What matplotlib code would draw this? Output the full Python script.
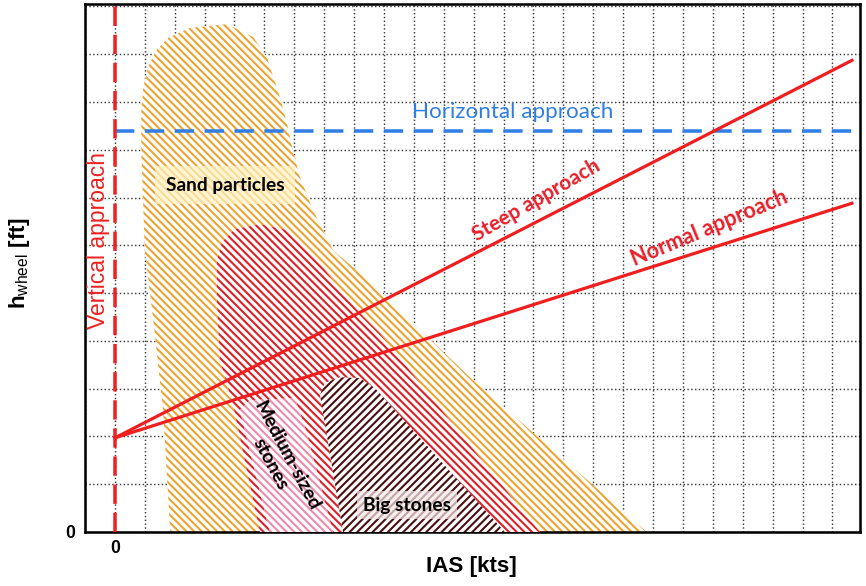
import matplotlib
matplotlib.use("Agg")
import matplotlib.pyplot as plt

# approach lines (IAS units, h units)
vertical_x = [0, 0]
vertical_y = [0, 11.05]
horizontal_x = [0, 24.92]
horizontal_y = [8.39, 8.39]
steep_x = [0, 24.65]
steep_y = [1.97, 9.87]
normal_x = [0, 24.65]
normal_y = [1.97, 6.88]

# debris regions, outline vertices
sand_x = [1.85, 1.61, 1.27, 1.00, 0.88, 0.88, 0.95, 1.12, 1.40, 1.80, 2.51, 3.75, 4.62, 5.08,
          5.52, 5.75, 5.95, 6.19, 6.62, 7.29, 8.19, 8.86, 9.53, 11.97, 17.79]
sand_y = [0.00, 2.55, 4.50, 5.90, 7.99, 8.83, 9.30, 9.75, 10.10, 10.35, 10.55, 10.63, 10.36, 9.94,
          9.10, 8.56, 7.99, 7.43, 6.74, 5.90, 5.42, 5.06, 4.64, 3.18, 0.00]
medium_x = [4.85, 3.95, 3.51, 3.41, 3.41, 3.58, 4.01, 4.85, 5.75, 6.42, 6.86, 7.53, 8.19, 8.86, 14.21]
medium_y = [0.00, 2.66, 3.60, 4.85, 5.69, 6.07, 6.34, 6.44, 6.32, 5.96, 5.63, 5.06, 4.58, 4.16, 0.00]
pink_x = [5.18, 4.18, 4.52, 6.02, 6.39, 7.29]
pink_y = [0.00, 2.55, 2.76, 2.80, 2.13, 0.00]
big_x = [7.63, 6.86, 7.02, 7.53, 8.19, 8.70, 13.04]
big_y = [0.00, 2.87, 3.12, 3.24, 3.22, 3.01, 0.00]

DPI = 115
plt.rcParams['hatch.linewidth'] = 1.3
plt.rcParams['mathtext.fontset'] = 'custom'
plt.rcParams['mathtext.rm'] = 'Liberation Sans'
plt.rcParams['mathtext.bf'] = 'Liberation Sans:bold'

fig = plt.figure(figsize=(866 / DPI, 586 / DPI), dpi=DPI)
ax = fig.add_axes([85 / 866, 54 / 586, 775 / 866, 528 / 586])
ax.set_xlim(-1, 24.92)
ax.set_ylim(0, 11.05)

ax.set_xticks(range(-1, 25))
ax.set_yticks(range(0, 12))
ax.set_xticklabels(['0' if v == 0 else '' for v in range(-1, 25)])
ax.set_yticklabels(['0' if v == 0 else '' for v in range(0, 12)])
ax.tick_params(length=0, labelsize=11)
ax.tick_params(axis='x', pad=5)
ax.tick_params(axis='y', pad=6)
for lab in ax.get_xticklabels() + ax.get_yticklabels():
    lab.set_fontweight('bold')
    lab.set_family('Liberation Sans')
ax.grid(True, linestyle=':', color='#3a3a3a', linewidth=0.9)
ax.set_axisbelow(True)
for sp in ax.spines.values():
    sp.set_linewidth(1.6)
    sp.set_color('black')

dense_se = '\\' * 5
dense_ne = '/' * 5
ax.fill(sand_x, sand_y, facecolor='white', edgecolor='#EEA530', hatch=dense_se, linewidth=0, zorder=2)
ax.fill(medium_x, medium_y, facecolor='white', edgecolor='#E01E26', hatch=dense_se, linewidth=0, zorder=3)
ax.fill(pink_x, pink_y, facecolor='white', edgecolor='#EE8AAE', hatch=dense_se, linewidth=0, zorder=4)
ax.fill(big_x, big_y, facecolor='white', edgecolor='#4A0E0E', hatch=dense_ne, linewidth=0, zorder=5)

ax.plot(horizontal_x, horizontal_y, color='#2F7EE6', linewidth=2.2, dashes=(5.5, 3), zorder=6)
ax.plot(vertical_x, vertical_y, color='#EE2222', linewidth=2.2, dashes=(5.5, 2.5), zorder=7)
ax.plot(steep_x, steep_y, color='#F01E1E', linewidth=2.0, zorder=8)
ax.plot(normal_x, normal_y, color='#F01E1E', linewidth=2.0, zorder=8)

ax.text(13.31, 8.79, 'Horizontal approach', color='#2F7EE6', fontsize=14, family='Lato',
        ha='center', va='center', zorder=9)
ax.text(-0.55, 6.11, 'Vertical approach', color='#EE2222', fontsize=14.3, family='Liberation Sans',
        rotation=90, ha='center', va='center', zorder=9)
ax.text(14.11, 6.95, 'Steep approach', color='#E8202A', fontsize=13, family='Lato', fontweight='bold',
        rotation=30, ha='center', va='center', rotation_mode='anchor', zorder=9)
ax.text(19.9, 6.36, 'Normal approach', color='#E8202A', fontsize=13.5, family='Lato', fontweight='bold',
        rotation=22.5, ha='center', va='center', rotation_mode='anchor', zorder=9)
ax.text(3.68, 7.26, 'Sand particles', color='black', fontsize=12, family='Lato', fontweight='bold',
        ha='center', va='center', zorder=9,
        bbox=dict(boxstyle='square,pad=0.55', facecolor='#FFF2C4', edgecolor='none', alpha=0.7))
ax.text(9.77, 0.56, 'Big stones', color='black', fontsize=12, family='Lato', fontweight='bold',
        ha='center', va='center', zorder=9,
        bbox=dict(boxstyle='square,pad=0.3', facecolor='#F4E6E6', edgecolor='none', alpha=0.7))
ax.text(5.48, 1.51, 'Medium-sized\nstones', color='black', fontsize=12, family='Lato', fontweight='bold',
        rotation=-62, ha='center', va='center', rotation_mode='anchor', linespacing=1.05, zorder=9)

ax.set_xlabel('IAS [kts]', fontsize=14, fontweight='bold', family='Liberation Sans')
ax.xaxis.set_label_coords(0.498, -0.066)
ax.xaxis.label.set_va('center')
ax.set_ylabel(r'$\mathbf{h}_{\mathrm{wheel}}$ [ft]', fontsize=14, fontweight='bold', family='Liberation Sans')
ax.yaxis.set_label_coords(-0.084, 0.509)
ax.yaxis.label.set_va('center')

fig.savefig('out.png', dpi=DPI)
